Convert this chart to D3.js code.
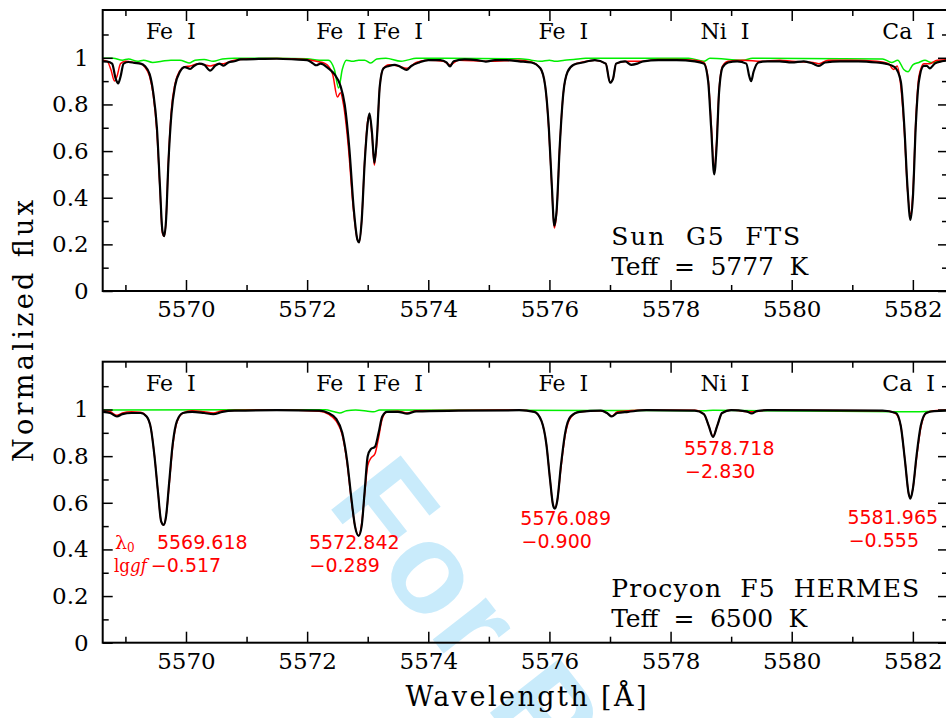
<!DOCTYPE html>
<html>
<head>
<meta charset="utf-8">
<script src="https://cdn.jsdelivr.net/npm/d3@7"></script>
<style>
  body { margin: 0; background: #fff; }
  svg { display: block; }
  text { white-space: pre; }
</style>
</head>
<body>
<svg id="chart" width="946" height="718"></svg>
<script>
// Solar spectrum (FTS atlas), [wavelength, normalized flux]
var sunObs = [
  [5568.63,0.985],[5568.70,0.984],[5568.78,0.975],[5568.84,0.91],[5568.88,0.89],[5568.92,0.92],[5568.97,0.975],
  [5569.05,0.982],[5569.15,0.978],[5569.25,0.975],[5569.32,0.965],[5569.40,0.93],[5569.46,0.85],[5569.52,0.70],
  [5569.57,0.45],[5569.61,0.26],[5569.64,0.235],[5569.67,0.30],[5569.71,0.55],[5569.76,0.76],[5569.82,0.88],
  [5569.90,0.94],[5569.98,0.96],[5570.07,0.952],[5570.13,0.965],[5570.22,0.975],[5570.30,0.97],[5570.40,0.945],
  [5570.48,0.965],[5570.55,0.975],[5570.62,0.966],[5570.70,0.98],[5570.80,0.985],[5570.90,0.993],[5571.20,0.995],
  [5571.50,0.996],[5571.80,0.993],[5572.00,0.99],[5572.10,0.975],[5572.15,0.968],[5572.22,0.975],[5572.35,0.955],
  [5572.45,0.93],[5572.55,0.88],[5572.62,0.80],[5572.70,0.60],[5572.77,0.35],[5572.83,0.22],[5572.86,0.208],
  [5572.90,0.30],[5572.95,0.55],[5573.00,0.72],[5573.03,0.762],[5573.07,0.68],[5573.11,0.55],[5573.15,0.65],
  [5573.20,0.88],[5573.26,0.955],[5573.35,0.965],[5573.45,0.97],[5573.55,0.96],[5573.64,0.948],[5573.72,0.965],
  [5573.85,0.98],[5574.00,0.99],[5574.20,0.99],[5574.30,0.98],[5574.36,0.963],[5574.42,0.985],[5574.60,0.993],
  [5574.80,0.99],[5574.95,0.984],[5575.10,0.99],[5575.30,0.99],[5575.50,0.985],[5575.70,0.98],[5575.85,0.955],
  [5575.93,0.88],[5575.99,0.70],[5576.04,0.45],[5576.08,0.28],[5576.12,0.35],[5576.17,0.62],[5576.23,0.85],
  [5576.30,0.94],[5576.40,0.97],[5576.55,0.98],[5576.75,0.99],[5576.93,0.975],[5577.00,0.893],[5577.05,0.91],
  [5577.10,0.975],[5577.25,0.985],[5577.35,0.97],[5577.45,0.975],[5577.55,0.985],[5577.80,0.99],[5578.10,0.99],
  [5578.40,0.985],[5578.55,0.975],[5578.62,0.90],[5578.67,0.70],[5578.72,0.50],[5578.76,0.62],[5578.80,0.85],
  [5578.86,0.96],[5578.95,0.98],[5579.10,0.985],[5579.25,0.975],[5579.30,0.92],[5579.33,0.90],[5579.37,0.94],
  [5579.45,0.98],[5579.60,0.985],[5579.80,0.985],[5580.00,0.98],[5580.20,0.985],[5580.35,0.975],[5580.45,0.965],
  [5580.55,0.98],[5580.80,0.985],[5581.10,0.985],[5581.40,0.98],[5581.55,0.975],[5581.70,0.96],[5581.80,0.90],
  [5581.86,0.70],[5581.91,0.45],[5581.96,0.305],[5582.00,0.40],[5582.05,0.72],[5582.10,0.90],[5582.18,0.965],
  [5582.23,0.965],[5582.28,0.955],[5582.36,0.975],[5582.48,0.985],[5582.60,0.99]
];
// Synthetic solar spectrum
var sunModel = [
  [5568.63,0.99],[5568.70,0.985],[5568.76,0.95],[5568.82,0.90],[5568.86,0.92],[5568.92,0.975],[5569.00,0.985],
  [5569.15,0.98],[5569.25,0.975],[5569.32,0.96],[5569.40,0.92],[5569.46,0.84],[5569.52,0.68],[5569.57,0.44],
  [5569.61,0.25],[5569.64,0.235],[5569.67,0.30],[5569.71,0.56],[5569.76,0.78],[5569.82,0.89],[5569.90,0.945],
  [5569.98,0.962],[5570.07,0.965],[5570.20,0.975],[5570.40,0.965],[5570.55,0.975],[5570.62,0.975],[5570.80,0.99],
  [5571.00,0.995],[5571.50,0.997],[5572.00,0.993],[5572.15,0.985],[5572.30,0.975],[5572.42,0.93],[5572.50,0.832],
  [5572.55,0.85],[5572.60,0.80],[5572.68,0.62],[5572.76,0.36],[5572.83,0.22],[5572.86,0.21],[5572.90,0.30],
  [5572.95,0.56],[5573.00,0.73],[5573.03,0.755],[5573.07,0.67],[5573.11,0.54],[5573.15,0.64],[5573.20,0.88],
  [5573.26,0.955],[5573.35,0.97],[5573.50,0.965],[5573.64,0.955],[5573.80,0.98],[5574.00,0.99],[5574.25,0.985],
  [5574.36,0.97],[5574.50,0.99],[5575.00,0.985],[5575.50,0.99],[5575.70,0.982],[5575.85,0.955],[5575.93,0.88],
  [5575.99,0.69],[5576.04,0.44],[5576.08,0.27],[5576.12,0.34],[5576.17,0.62],[5576.23,0.85],[5576.30,0.94],
  [5576.40,0.97],[5576.55,0.982],[5576.75,0.99],[5576.93,0.975],[5577.00,0.895],[5577.05,0.91],[5577.10,0.975],
  [5577.30,0.985],[5577.50,0.985],[5577.80,0.993],[5578.10,0.993],[5578.40,0.99],[5578.55,0.98],[5578.62,0.91],
  [5578.67,0.72],[5578.72,0.52],[5578.76,0.64],[5578.80,0.86],[5578.86,0.965],[5578.95,0.985],[5579.20,0.99],
  [5579.50,0.985],[5579.80,0.99],[5580.00,0.985],[5580.35,0.98],[5580.45,0.975],[5580.60,0.99],[5581.00,0.99],
  [5581.40,0.985],[5581.60,0.975],[5581.68,0.95],[5581.74,0.965],[5581.80,0.88],[5581.86,0.68],[5581.91,0.44],
  [5581.96,0.33],[5582.00,0.42],[5582.05,0.74],[5582.10,0.92],[5582.18,0.975],[5582.28,0.975],[5582.40,0.99],
  [5582.60,0.992]
];
// Telluric spectrum, solar panel
var sunTell = [
  [5568.63,0.998],[5568.80,0.998],[5568.95,0.99],[5569.05,0.995],[5569.20,0.985],[5569.30,0.99],[5569.45,0.98],
  [5569.60,0.985],[5569.75,0.99],[5569.90,0.99],[5570.05,0.978],[5570.15,0.99],[5570.30,0.993],[5570.45,0.985],
  [5570.60,0.995],[5570.80,0.998],[5571.50,0.998],[5572.00,0.996],[5572.20,0.99],[5572.35,0.99],[5572.45,0.95],
  [5572.52,0.87],[5572.58,0.95],[5572.65,0.99],[5572.75,0.985],[5572.85,0.99],[5572.95,0.99],[5573.05,0.978],
  [5573.15,0.995],[5573.30,0.998],[5573.55,0.985],[5573.65,0.99],[5573.80,0.998],[5575.50,0.996],[5575.70,0.99],
  [5575.85,0.985],[5576.00,0.99],[5576.10,0.985],[5576.25,0.99],[5576.40,0.993],[5576.60,0.998],[5578.30,0.998],
  [5578.55,0.985],[5578.65,0.998],[5579.20,0.99],[5579.35,0.998],[5581.50,0.995],[5581.65,0.98],[5581.75,0.99],
  [5581.85,0.95],[5581.92,0.94],[5582.00,0.97],[5582.10,0.98],[5582.20,0.99],[5582.30,0.98],[5582.60,0.995]
];
// Procyon (HERMES)
var procObs = [
  [5568.63,0.99],[5568.75,0.985],[5568.86,0.97],[5568.95,0.98],[5569.10,0.985],[5569.25,0.985],[5569.35,0.97],
  [5569.42,0.92],[5569.48,0.80],[5569.54,0.64],[5569.59,0.52],[5569.63,0.505],[5569.67,0.54],[5569.72,0.68],
  [5569.78,0.85],[5569.85,0.95],[5569.95,0.985],[5570.10,0.99],[5570.30,0.985],[5570.45,0.98],[5570.60,0.99],
  [5570.80,0.995],[5571.50,0.997],[5572.20,0.995],[5572.35,0.985],[5572.48,0.96],[5572.58,0.90],[5572.66,0.78],
  [5572.73,0.62],[5572.79,0.50],[5572.85,0.458],[5572.90,0.50],[5572.95,0.65],[5573.00,0.80],[5573.05,0.83],
  [5573.12,0.84],[5573.18,0.90],[5573.24,0.97],[5573.32,0.99],[5573.50,0.99],[5573.65,0.982],[5573.80,0.992],
  [5574.50,0.995],[5575.50,0.997],[5575.75,0.99],[5575.87,0.95],[5575.95,0.85],[5576.01,0.70],[5576.06,0.59],
  [5576.09,0.575],[5576.13,0.61],[5576.19,0.76],[5576.26,0.90],[5576.35,0.97],[5576.50,0.99],[5576.85,0.995],
  [5576.95,0.985],[5577.03,0.97],[5577.12,0.985],[5577.30,0.99],[5577.60,0.997],[5578.40,0.995],[5578.55,0.98],
  [5578.63,0.93],[5578.70,0.882],[5578.77,0.93],[5578.85,0.985],[5579.00,0.997],[5579.25,0.992],[5579.34,0.983],
  [5579.42,0.993],[5579.60,0.997],[5581.50,0.995],[5581.72,0.985],[5581.80,0.93],[5581.87,0.78],[5581.93,0.64],
  [5581.96,0.618],[5582.00,0.66],[5582.06,0.80],[5582.13,0.93],[5582.22,0.985],[5582.35,0.993],[5582.60,0.995]
];
var procModel = [
  [5568.63,0.995],[5568.75,0.99],[5568.86,0.975],[5568.95,0.985],[5569.10,0.99],[5569.25,0.988],[5569.35,0.97],
  [5569.42,0.92],[5569.48,0.80],[5569.54,0.64],[5569.59,0.52],[5569.63,0.505],[5569.67,0.54],[5569.72,0.67],
  [5569.78,0.84],[5569.85,0.945],[5569.95,0.985],[5570.10,0.995],[5570.30,0.99],[5570.45,0.985],[5570.60,0.995],
  [5571.50,0.998],[5572.20,0.993],[5572.35,0.98],[5572.48,0.95],[5572.58,0.89],[5572.66,0.77],[5572.73,0.61],
  [5572.79,0.50],[5572.85,0.46],[5572.90,0.51],[5572.95,0.64],[5573.00,0.76],[5573.05,0.79],[5573.12,0.81],
  [5573.18,0.88],[5573.24,0.96],[5573.32,0.99],[5573.50,0.993],[5573.65,0.985],[5573.80,0.995],[5575.50,0.998],
  [5575.75,0.99],[5575.87,0.95],[5575.95,0.85],[5576.01,0.70],[5576.06,0.59],[5576.09,0.578],[5576.13,0.61],
  [5576.19,0.75],[5576.26,0.89],[5576.35,0.965],[5576.50,0.99],[5576.85,0.995],[5576.95,0.985],[5577.03,0.972],
  [5577.12,0.99],[5577.60,0.998],[5578.40,0.997],[5578.55,0.98],[5578.63,0.93],[5578.70,0.885],[5578.77,0.93],
  [5578.85,0.985],[5579.00,0.998],[5579.34,0.99],[5579.60,0.998],[5581.50,0.995],[5581.65,0.99],[5581.72,0.982],
  [5581.80,0.93],[5581.87,0.78],[5581.93,0.64],[5581.96,0.62],[5582.00,0.66],[5582.06,0.79],[5582.13,0.92],
  [5582.22,0.985],[5582.35,0.995],[5582.60,0.998]
];
var procTell = [
  [5568.63,0.998],[5572.30,0.999],[5572.45,0.99],[5572.54,0.985],[5572.65,0.995],[5572.80,0.998],[5573.00,0.993],
  [5573.10,0.99],[5573.20,0.998],[5578.55,0.995],[5578.70,0.997],[5581.80,0.99],[5582.00,0.99],[5582.60,0.998]
];

// Line identifications
var lineNames = ["Fe  I", "Fe  I", "Fe  I", "Fe  I", "Ni  I", "Ca  I"];
var lineLabelPos = [5569.75, 5572.56, 5573.50, 5576.23, 5578.90, 5581.93];

// Line data shown in the Procyon panel
var lambda0 = ["5569.618", "5572.842", "5576.089", "5578.718", "5581.965"];
var loggf = ["\u22120.517", "\u22120.289", "\u22120.900", "\u22122.830", "\u22120.555"];
var annX = [5569.52, 5572.03, 5575.52, 5578.22, 5580.92];
var annX2 = [5569.42, 5572.04, 5575.54, 5578.24, 5580.94];
var annY = [0.40, 0.40, 0.504, 0.803, 0.511];
var annY2 = [0.304, 0.304, 0.404, 0.705, 0.411];

var panels = [
  {obs: sunObs, model: sunModel, tell: sunTell, top: 10, bottom: 291,
   star: "Sun  G5  FTS", starLen: 189, teff: "Teff  =  5777  K", teffLen: 197},
  {obs: procObs, model: procModel, tell: procTell, top: 361.7, bottom: 642.7,
   star: "Procyon  F5  HERMES", starLen: 308, teff: "Teff  =  6500  K", teffLen: 196}
];

var svg = d3.select("#chart");
var left = 102.7, right = 948;
var serif = "'DejaVu Serif', serif";

var x = d3.scaleLinear().domain([5568.625, 5582.58]).range([left, right]);

// watermark
svg.append("text")
  .attr("transform", "translate(326,503) rotate(52)")
  .attr("font-family", "'Liberation Sans', Arial, sans-serif")
  .attr("font-weight", "bold")
  .attr("font-size", 128)
  .attr("letter-spacing", 4)
  .attr("fill", "#c9ebfb")
  .text("For Peer Review");

svg.append("defs").append("clipPath").attr("id", "clip")
  .append("rect").attr("x", left).attr("y", 0).attr("width", right - left).attr("height", 718);

var fmtY = function(d) { return d === 0 ? "0" : d === 1 ? "1" : d.toFixed(1); };

panels.forEach(function(p, i) {
  var y = d3.scaleLinear().domain([0, 1.205]).range([p.bottom, p.top]);
  var g = svg.append("g");

  var line = d3.line()
    .x(function(d) { return x(d[0]); })
    .y(function(d) { return y(d[1]); })
    .curve(d3.curveMonotoneX);

  var plot = g.append("g").attr("clip-path", "url(#clip)");
  plot.append("path").attr("d", line(p.tell)).attr("fill", "none")
    .attr("stroke", "#00ee00").attr("stroke-width", 1.5);
  plot.append("path").attr("d", line(p.model)).attr("fill", "none")
    .attr("stroke", "#ff0000").attr("stroke-width", 1.5);
  plot.append("path").attr("d", line(p.obs)).attr("fill", "none")
    .attr("stroke", "#000").attr("stroke-width", 2.2);

  // axes, ticks pointing inside on all sides
  var xMajor = d3.range(5570, 5583, 2), xMinor = d3.range(5569, 5583, 2);
  var yMajor = [0, 0.2, 0.4, 0.6, 0.8, 1],
      yMinor = [0.1, 0.3, 0.5, 0.7, 0.9, 1.1];

  var axes = [
    [d3.axisBottom(x).tickValues(xMajor).tickSize(-11).tickPadding(10).tickFormat(d3.format("d")), "translate(0," + p.bottom + ")"],
    [d3.axisBottom(x).tickValues(xMinor).tickSize(-6).tickFormat(""), "translate(0," + p.bottom + ")"],
    [d3.axisTop(x).tickValues(xMajor).tickSize(-11).tickFormat(""), "translate(0," + p.top + ")"],
    [d3.axisTop(x).tickValues(xMinor).tickSize(-6).tickFormat(""), "translate(0," + p.top + ")"],
    [d3.axisLeft(y).tickValues(yMajor).tickSize(-10).tickPadding(14).tickFormat(fmtY), "translate(" + left + ",0)"],
    [d3.axisLeft(y).tickValues(yMinor).tickSize(-6).tickFormat(""), "translate(" + left + ",0)"],
    [d3.axisRight(y).tickValues(yMajor).tickSize(-10).tickFormat(""), "translate(" + right + ",0)"],
    [d3.axisRight(y).tickValues(yMinor).tickSize(-6).tickFormat(""), "translate(" + right + ",0)"]
  ];
  axes.forEach(function(a) {
    var ag = g.append("g").attr("transform", a[1]).call(a[0]);
    ag.select(".domain").remove();
    ag.selectAll("line").attr("stroke", "#000").attr("stroke-width", 1.5);
    ag.selectAll("text").attr("font-family", serif).attr("font-size", 23).attr("fill", "#000");
  });

  g.append("rect").attr("x", left).attr("y", p.top).attr("width", right - left)
    .attr("height", p.bottom - p.top).attr("fill", "none")
    .attr("stroke", "#000").attr("stroke-width", 2);

  // line identifications
  g.selectAll(".lid").data(lineNames).enter().append("text")
    .attr("x", function(d, j) { return x(lineLabelPos[j]); })
    .attr("y", y(1.08))
    .attr("text-anchor", "middle")
    .attr("font-family", serif).attr("font-size", 22)
    .text(function(d) { return d; });

  g.append("text").attr("x", x(5577.02)).attr("y", y(0.197))
    .attr("font-family", serif).attr("font-size", 25)
    .attr("textLength", p.starLen).attr("lengthAdjust", "spacing").text(p.star);
  g.append("text").attr("x", x(5577.02)).attr("y", y(0.068))
    .attr("font-family", serif).attr("font-size", 25)
    .attr("textLength", p.teffLen).attr("lengthAdjust", "spacing").text(p.teff);

  if (i === 1) {
    var red = g.append("g").attr("fill", "#ff0000");
    red.selectAll(".l0").data(lambda0).enter().append("text")
      .attr("x", function(d, j) { return x(annX[j]); })
      .attr("y", function(d, j) { return y(annY[j]); })
      .attr("font-family", "'DejaVu Sans', sans-serif").attr("font-size", 19)
      .text(function(d) { return d; });
    red.selectAll(".gf").data(loggf).enter().append("text")
      .attr("x", function(d, j) { return x(annX2[j]); })
      .attr("y", function(d, j) { return y(annY2[j]); })
      .attr("font-family", "'DejaVu Sans', sans-serif").attr("font-size", 19)
      .text(function(d) { return d; });
    var lam = red.append("text").attr("x", 115).attr("y", y(0.40))
      .attr("font-family", serif).attr("font-size", 19);
    lam.append("tspan").text("\u03bb");
    lam.append("tspan").attr("font-size", 12).attr("dy", 3).text("0");
    var gf = red.append("text").attr("x", 114).attr("y", y(0.304))
      .attr("font-family", serif).attr("font-size", 18)
      .attr("textLength", 33).attr("lengthAdjust", "spacingAndGlyphs");
    gf.append("tspan").text("lg");
    gf.append("tspan").attr("font-style", "italic").text("gf");
  }
});

// axis titles
svg.append("text")
  .attr("transform", "translate(33,331) rotate(-90)")
  .attr("text-anchor", "middle")
  .attr("font-family", serif).attr("font-size", 27)
  .attr("textLength", 262).attr("lengthAdjust", "spacing")
  .text("Normalized flux");

svg.append("text")
  .attr("x", 526).attr("y", 706)
  .attr("text-anchor", "middle")
  .attr("font-family", serif).attr("font-size", 27)
  .attr("textLength", 241).attr("lengthAdjust", "spacing")
  .text("Wavelength [\u00c5]");
</script>
</body>
</html>
